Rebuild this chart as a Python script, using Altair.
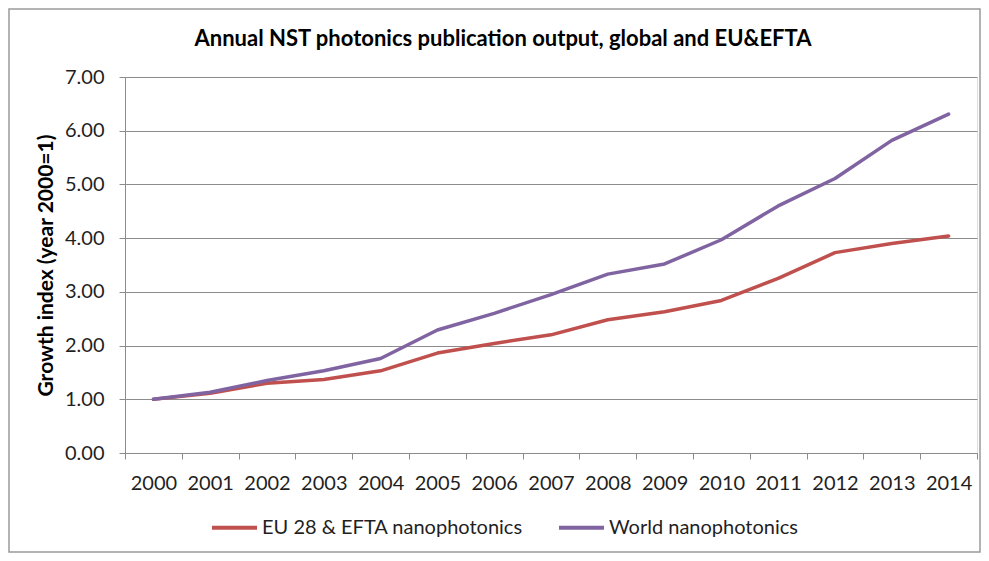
import altair as alt
import pandas as pd

years = [str(y) for y in range(2000, 2015)]
eu_values = [1.00, 1.11, 1.30, 1.37, 1.53, 1.86, 2.04, 2.20, 2.48, 2.63, 2.84, 3.25, 3.73, 3.90, 4.04]
world_values = [1.00, 1.13, 1.35, 1.53, 1.76, 2.29, 2.60, 2.95, 3.33, 3.52, 3.97, 4.60, 5.11, 5.82, 6.31]
series_names = ["EU 28 & EFTA nanophotonics", "World nanophotonics"]
series_colors = ["#C0504D", "#8064A2"]
y_ticks = [0, 1, 2, 3, 4, 5, 6, 7]

df = pd.DataFrame({
    "year": years + years,
    "value": eu_values + world_values,
    "series": [series_names[0]] * len(years) + [series_names[1]] * len(years),
})

FONT = "Lato"
GRAY = "#8C8C8C"
TEXT = "#1F1F1F"

lines = alt.Chart(df).mark_line(strokeWidth=3.5, strokeCap="round", strokeJoin="round").encode(
    x=alt.X(
        "year:O",
        scale=alt.Scale(type="band", paddingInner=0, paddingOuter=0),
        bandPosition=0.5,
        sort=years,
        axis=alt.Axis(
            title=None, labelAngle=0, tickBand="extent", grid=False,
            domainColor=GRAY, tickColor=GRAY, tickSize=6, labelPadding=14,
            labelFont=FONT, labelFontSize=20, labelColor=TEXT,
        ),
    ),
    y=alt.Y(
        "value:Q",
        scale=alt.Scale(domain=[0, 7], nice=False, zero=True),
        axis=alt.Axis(
            title="Growth index (year 2000=1)", values=y_ticks, format=".2f",
            grid=True, gridColor=GRAY, gridWidth=1,
            domainColor=GRAY, tickColor=GRAY, tickSize=6, labelPadding=15,
            labelFont=FONT, labelFontSize=20, labelColor=TEXT,
            titleFont=FONT, titleFontSize=21, titleFontWeight="bold", titleColor="#000000",
            titlePadding=8,
        ),
    ),
    color=alt.Color(
        "series:N",
        scale=alt.Scale(domain=series_names, range=series_colors),
        legend=alt.Legend(
            title=None, orient="none", direction="horizontal",
            legendX=85, legendY=426,
            symbolType="stroke", symbolSize=2025, symbolStrokeWidth=4,
            labelFont=FONT, labelFontSize=20, labelColor=TEXT, labelOffset=3,
            labelLimit=500, columnPadding=28,
        ),
    ),
)

# outer chart frame (decoration)
frame = alt.Chart(pd.DataFrame({"f": [0]})).mark_rect(
    fill=None, stroke="#9A9A9A", strokeWidth=1.5
).encode(
    x=alt.value(-116), x2=alt.value(855), y=alt.value(-68), y2=alt.value(475)
)

chart = alt.layer(frame, lines).properties(
    width=852,
    height=376,
    title=alt.Title(
        "Annual NST photonics publication output, global and EU&EFTA",
        font=FONT, fontSize=22, fontWeight="bold", color="#000000",
        anchor="middle", dx=-48, dy=43, offset=0,
    ),
    padding={"left": 117, "top": 69, "right": 4, "bottom": 100},
    autosize="none",
).configure_view(stroke=None).configure(background="white")

chart.save("out.html", embed_options={"renderer": "svg", "actions": False})
